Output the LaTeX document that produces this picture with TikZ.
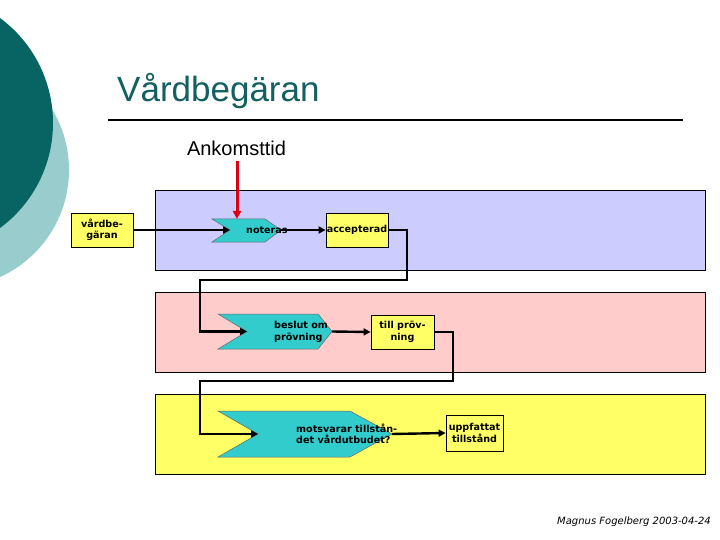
\documentclass[tikz,border=0pt]{standalone}
\usepackage{fontspec}
\setmainfont{Liberation Sans}
\newfontfamily\boxfont{DejaVu Sans}
\usetikzlibrary{arrows.meta}
\definecolor{darkteal}{RGB}{8,100,98}
\definecolor{lightteal}{RGB}{153,204,204}
\definecolor{titleteal}{RGB}{20,95,95}
\definecolor{bandblue}{RGB}{204,204,255}
\definecolor{bandpink}{RGB}{255,204,204}
\definecolor{bandyellow}{RGB}{255,255,102}
\definecolor{chevcol}{RGB}{51,204,204}
\definecolor{arrred}{RGB}{220,0,20}
\tikzset{
  band/.style={draw=black, line width=0.8pt},
  ybox/.style={draw=black, line width=0.8pt, fill=bandyellow, inner sep=0pt, align=center,
    font=\boxfont\bfseries\fontsize{9.6}{11.5}\selectfont},
  chev/.style={fill=chevcol, draw=black!60, line width=0.5pt},
  chevtext/.style={inner sep=0pt, align=left, font=\boxfont\bfseries\fontsize{9.6}{11.5}\selectfont},
  conn/.style={draw=black, line width=2.4pt, -{Triangle[length=7pt,width=7pt]}},
}
\begin{document}
\begin{tikzpicture}[x=1pt,y=-1pt]
\useasboundingbox (0,0) rectangle (720,540);
\clip (0,0) rectangle (720,540);
% decorative circles
\fill[lightteal] (-48.5,170) circle (117.5);
\fill[darkteal] (-77.5,123) circle (130.5);
% title
\node[anchor=base west, inner sep=0pt, text=titleteal, font=\fontsize{35}{40}\selectfont] (title) at (117,102) {Vårdbegäran};
\draw[line width=2pt] (108,120) -- (683,120);
\node[inner sep=0pt, font=\fontsize{20}{24}\selectfont] (ank) at (236.5,148) {Ankomsttid};
% bands
\filldraw[band, fill=bandblue] (155.5,190.5) rectangle (705.5,270);
\filldraw[band, fill=bandpink] (155.5,292) rectangle (705.5,372);
\filldraw[band, fill=bandyellow] (155.5,394) rectangle (705.5,474);
% chevron 1
\filldraw[chev] (212,219) -- (265,219) -- (281,230) -- (265,242) -- (212,242) -- (230,230) -- cycle;
\coordinate (n1notch) at (230,230);
\coordinate (n1tip) at (281,230);
\coordinate (n1top) at (237,219);
\node[chevtext, anchor=west] (n1) at (246,230.5) {noteras};
% chevron 2
\filldraw[chev] (218,314) -- (318,314) -- (332,331.5) -- (318,349) -- (218,349) -- (247,331.5) -- cycle;
\coordinate (n2notch) at (247,331.5);
\coordinate (n2tip) at (332,331.5);
\node[chevtext, anchor=west] (n2) at (274,332) {beslut om\\prövning};
% chevron 3
\filldraw[chev] (218,411) -- (350,411) -- (392,434) -- (350,457) -- (218,457) -- (258,434) -- cycle;
\coordinate (n3notch) at (258,434);
\coordinate (n3tip) at (392,434);
\node[chevtext, anchor=west] (n3) at (296,434) {motsvarar tillstån-\\det vårdutbudet?};
% boxes
\node[ybox, minimum width=62pt, minimum height=34pt] (v) at (102,230) {vårdbe-\\gäran};
\node[ybox, minimum width=62pt, minimum height=34pt] (acc) at (357,230) {accepterad};
\node[ybox, minimum width=63pt, minimum height=34pt] (tp) at (402.5,332) {till pröv-\\ning};
\node[ybox, minimum width=57pt, minimum height=36pt] (upp) at (474.5,433) {uppfattat\\tillstånd};
% routing points
\coordinate (r1) at (407,280);
\coordinate (l1) at (200,280);
\coordinate (r2) at (453,381);
\coordinate (l2) at (200,381);
% connectors
\draw[conn] (v.east) -- (n1notch);
\draw[conn] (n1tip) -- (acc.west);
\draw[conn] (acc.east) -| (r1) -- (l1) |- (n2notch);
\draw[conn] (n2tip) -- (tp.west);
\draw[conn] (tp.east) -| (r2) -- (l2) |- (n3notch);
\draw[conn] (n3tip) -- (upp.west);
\draw[draw=arrred, line width=3pt, -{Triangle[length=8pt,width=8pt]}, shorten <=5pt] (ank.south -| n1top) -- (n1top);
% footer
\node[anchor=base east, inner sep=0pt, font=\boxfont\itshape\fontsize{10}{12}\selectfont] (foot) at (711,524) {Magnus Fogelberg 2003-04-24};
\end{tikzpicture}
\end{document}
